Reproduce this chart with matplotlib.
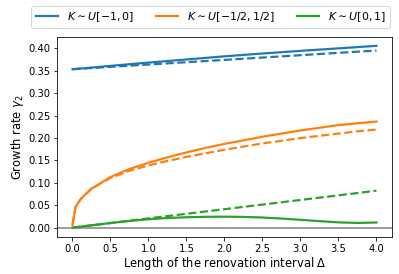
import matplotlib
matplotlib.use('Agg')
import matplotlib.pyplot as plt

# renovation interval lengths (x grid)
delta = [0, 0.04, 0.1, 0.15, 0.25, 0.5, 0.75, 1.0, 1.25, 1.5, 1.75, 2.0,
         2.25, 2.5, 2.75, 3.0, 3.25, 3.5, 3.75, 4.0]

# K ~ U[-1, 0]
blue_solid = [0.3537, 0.3543, 0.3552, 0.3559, 0.3574, 0.3612, 0.3649, 0.3685, 0.3720,
              0.3755, 0.3790, 0.3825, 0.3857, 0.3888, 0.3918, 0.3947, 0.3975, 0.4003,
              0.4031, 0.4060]
blue_dash = [0.3537, 0.3541, 0.3548, 0.3553, 0.3564, 0.3590, 0.3616, 0.3642, 0.3668,
             0.3694, 0.3720, 0.3745, 0.3772, 0.3798, 0.3824, 0.3850, 0.3877, 0.3903,
             0.3929, 0.3955]

# K ~ U[-1/2, 1/2]
orange_solid = [0.006, 0.046, 0.062, 0.071, 0.087, 0.113, 0.131, 0.145, 0.157, 0.168,
                0.178, 0.187, 0.195, 0.203, 0.210, 0.217, 0.223, 0.229, 0.233, 0.237]
orange_dash = [0.006, 0.046, 0.062, 0.071, 0.087, 0.111, 0.127, 0.139, 0.149, 0.158,
               0.166, 0.174, 0.181, 0.188, 0.194, 0.200, 0.205, 0.210, 0.215, 0.219]

# K ~ U[0, 1]
green_solid = [0.0, 0.0008, 0.0021, 0.0031, 0.0052, 0.0103, 0.0150, 0.0188, 0.0215,
               0.0232, 0.0242, 0.0245, 0.0240, 0.0226, 0.0203, 0.0175, 0.0145, 0.0118,
               0.0105, 0.0115]
green_dash = [0.0, 0.0008, 0.0021, 0.0031, 0.0052, 0.0103, 0.0155, 0.0206, 0.0258,
              0.0309, 0.0361, 0.0412, 0.0464, 0.0515, 0.0567, 0.0618, 0.0670, 0.0721,
              0.0773, 0.0825]

labels = [r'$K\sim U[-1,0]$', r'$K\sim U[-1/2,1/2]$', r'$K\sim U[0,1]$']
colors = ['tab:blue', 'tab:orange', 'tab:green']

fig = plt.figure(figsize=(399 / 72, 274 / 72), dpi=72)
ax = fig.add_axes([0.1436, 0.136, 0.8381, 0.730])

ax.axhline(0, color='grey', lw=1.5)
for sol, dash, c, lab in zip([blue_solid, orange_solid, green_solid],
                             [blue_dash, orange_dash, green_dash], colors, labels):
    ax.plot(delta, sol, color=c, lw=2.2, label=lab)
    ax.plot(delta, dash, color=c, lw=2.2, ls='--')

ax.set_xticks([0, 0.5, 1, 1.5, 2, 2.5, 3, 3.5, 4])
ax.set_yticks([0, 0.05, 0.1, 0.15, 0.2, 0.25, 0.3, 0.35, 0.4])
ax.set_xlabel(r'Length of the renovation interval $\Delta$', fontsize=11.5, labelpad=1)
ax.set_ylabel(r'Growth rate $\gamma_2$', fontsize=11.5, labelpad=2)
ax.legend(loc='lower right', bbox_to_anchor=(0.995, 1.043), ncol=3,
          borderaxespad=0, fontsize=11)

fig.savefig('out.png', dpi=72)
